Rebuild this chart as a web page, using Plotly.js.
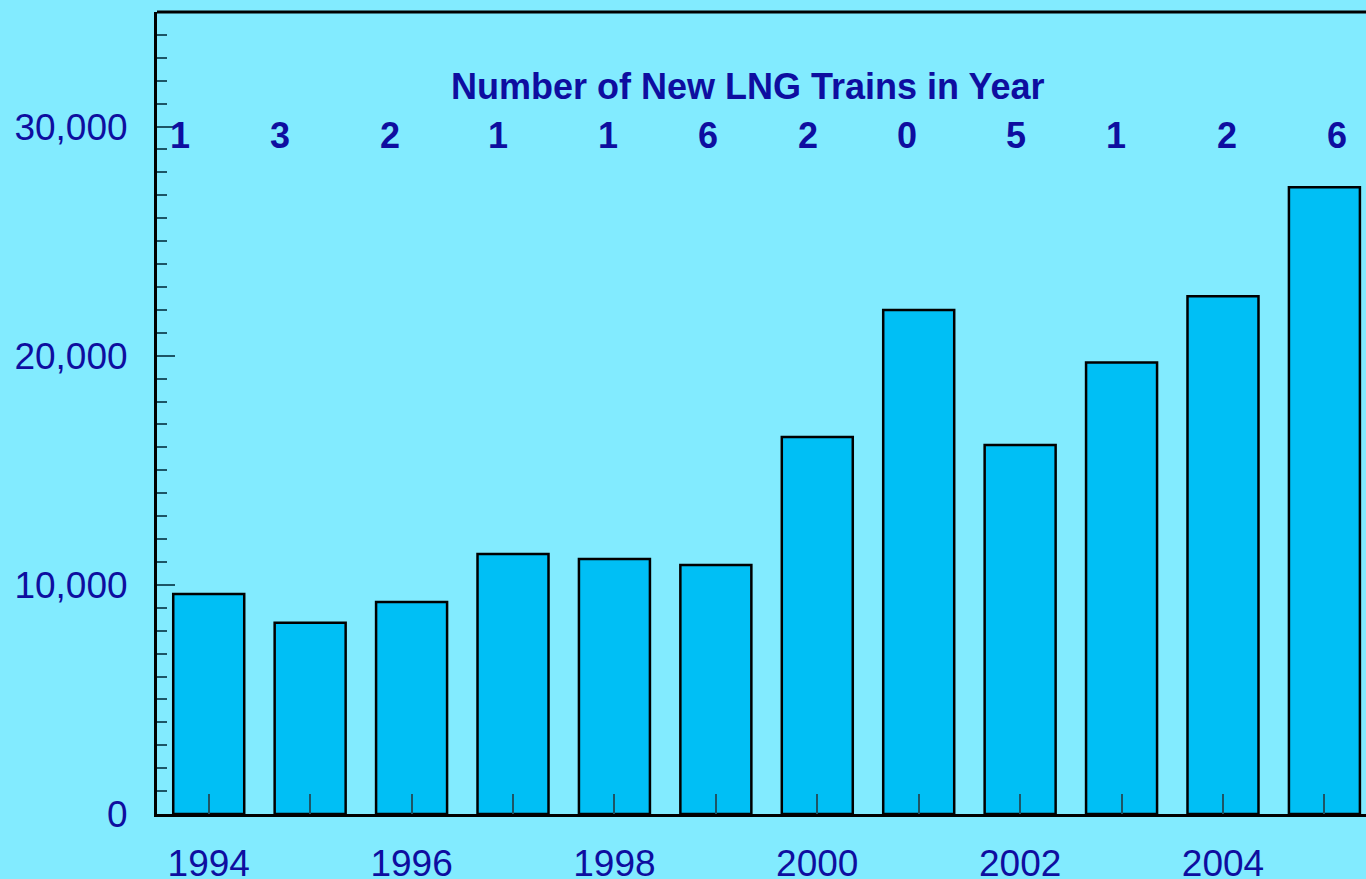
<!DOCTYPE html>
<html>
<head>
<meta charset="utf-8">
<script src="https://cdn.plot.ly/plotly-3.0.1.min.js"></script>
<style>
html,body{margin:0;padding:0;background:#82EBFF;overflow:hidden;}
#chart{width:1366px;height:879px;}
</style>
</head>
<body>
<div id="chart"></div>
<script>
// Data
const years = [1994,1995,1996,1997,1998,1999,2000,2001,2002,2003,2004,2005];
const capacity = [9600,8350,9250,11350,11130,10870,16450,22000,16100,19700,22600,27350];
const newTrains = ['1','3','2','1','1','6','2','0','5','1','2','6'];
const titleText = 'Number of New LNG Trains in Year';

const W = 1366, H = 879, L = 157, T = 12, B = 65, R = 0;
const plotW = W - L - R;
// horizontal pixel centres of the train counts (layout only)
const countPx = [180,280,390,498,608,708,808,907,1016,1116,1227,1337];

const textColor = '#0E0EA0';
const font = 'Liberation Sans, Arial, sans-serif';

const annotations = newTrains.map((t,i)=>({
  text: '<b>'+t+'</b>', xref:'paper', yref:'paper',
  x: (countPx[i]-L)/plotW, y: (879-B-135)/(H-T-B),
  xanchor:'center', yanchor:'middle', showarrow:false,
  font:{family:font, size:36, color:textColor}
}));
annotations.push({
  text: '<b>'+titleText+'</b>', xref:'paper', yref:'paper',
  x:(748-L)/plotW, y:(879-B-86)/(H-T-B), xanchor:'center', yanchor:'middle',
  showarrow:false, font:{family:font, size:36, color:textColor}
});

const trace = {
  type:'bar', x: years, y: capacity, width:0.7,
  marker:{color:'#00BFF5', line:{color:'#000000', width:2.5}},
  hoverinfo:'skip'
};

const tickCol = '#1d5566';
const layout = {
  width:W, height:H,
  margin:{l:L, r:R, t:T, b:B, pad:0},
  paper_bgcolor:'#82EBFF', plot_bgcolor:'#82EBFF',
  showlegend:false,
  font:{family:font, color:textColor, size:37},
  xaxis:{
    range:[1993.49, 2005.41], tick0:1994, dtick:2, tickmode:'linear',
    ticks:'inside', ticklen:20, tickwidth:2, tickcolor:tickCol,
    minor:{dtick:1, tick0:1994, ticks:'inside', ticklen:20, tickwidth:2, tickcolor:tickCol, showgrid:false},
    showgrid:false, zeroline:false, showline:true, linecolor:'#000', linewidth:3,
    tickfont:{family:font, size:37, color:textColor}, ticklabelstandoff:15
  },
  yaxis:{
    range:[0,35000], tick0:0, dtick:10000, tickmode:'linear',
    ticks:'inside', ticklen:18, tickwidth:2, tickcolor:tickCol,
    minor:{dtick:1000, ticks:'inside', ticklen:10, tickwidth:2, tickcolor:tickCol, showgrid:false},
    showgrid:false, zeroline:false, showline:true, linecolor:'#000', linewidth:3,
    tickformat:',d', tickfont:{family:font, size:37, color:textColor}, ticklabelstandoff:19
  },
  shapes:[{type:'line', xref:'paper', yref:'paper', x0:0, x1:1, y0:1, y1:1, line:{color:'#000', width:3}}],
  annotations: annotations,
  bargap:0.3
};

Plotly.newPlot('chart',[trace],layout,{displayModeBar:false, staticPlot:true});
</script>
</body>
</html>
